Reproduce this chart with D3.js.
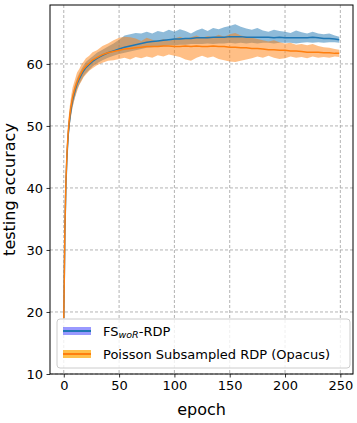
<!DOCTYPE html>
<html><head><meta charset="utf-8">
<script src="https://cdn.jsdelivr.net/npm/d3@7"></script>
<style>body{margin:0;background:#fff}svg{display:block}text{font-family:"DejaVu Sans",sans-serif}</style>
</head><body><svg id="c" width="357" height="423"></svg>
<script>
const epochs = [0,1,2,3,4,5,6,7,8,10,12,14,16,18,20,23,26,30,35,40,45,50,55,60,65,70,75,80,85,90,95,100,105,110,115,120,125,130,135,140,145,150,155,160,165,170,175,180,185,190,195,200,205,210,215,220,225,230,235,240,245,249];
const blueMean = [19.0,33,41,45.5,48.5,50.5,52,53.2,54.2,55.6,56.8,57.6,58.3,58.9,59.4,59.9,60.4,60.9,61.4,61.8,62.1,62.4,62.7,62.9,63.1,63.3,63.5,63.6,63.7,63.8,63.9,64.0,64.0,64.1,64.1,64.2,64.2,64.2,64.3,64.3,64.3,64.4,64.4,64.4,64.3,64.3,64.3,64.3,64.3,64.2,64.3,64.2,64.2,64.2,64.2,64.2,64.3,64.2,64.1,64.1,64.0,63.9];
const blueUpper = [19.3,34,42,46.5,49.5,51.5,53,54.2,55.2,56.6,57.7,58.5,59.2,59.8,60.3,60.8,61.2,61.8,62.3,62.8,63.3,63.9,64.6,64.8,65.0,64.9,65.2,64.9,65.3,65.1,65.5,65.2,65.6,65.3,64.9,65.4,65.7,65.3,65.8,65.6,65.9,66.1,66.4,66.0,65.7,65.5,65.8,65.4,65.2,65.5,65.3,65.2,65.0,65.4,65.1,64.9,65.2,64.9,64.8,64.9,64.6,64.4];
const blueLower = [18.7,32,40,44.5,47.5,49.5,51,52.2,53.2,54.6,55.9,56.7,57.4,58.0,58.5,59.0,59.6,60.1,60.6,61.0,61.3,61.6,61.8,62.0,62.2,62.4,62.6,62.7,62.8,62.9,63.0,63.0,63.1,63.1,63.2,63.2,63.2,63.3,63.2,63.3,63.3,63.4,63.3,63.4,63.3,63.4,63.3,63.4,63.4,63.3,63.4,63.4,63.4,63.3,63.4,63.5,63.4,63.5,63.4,63.5,63.5,63.4];
const orangeMean = [19.0,33.5,41.5,46,49,51,52.5,53.6,54.6,56.0,57.1,57.9,58.6,59.2,59.6,60.1,60.6,61.0,61.5,61.8,62.0,62.2,62.4,62.5,62.6,62.7,62.8,62.8,62.8,62.9,62.9,62.8,62.8,62.9,62.8,62.9,62.8,62.8,62.9,62.8,62.8,62.7,62.7,62.6,62.6,62.5,62.5,62.4,62.3,62.3,62.2,62.2,62.1,62.1,62.0,61.9,61.9,61.9,61.8,61.8,61.7,61.7];
const orangeUpper = [19.4,34.8,43,47.5,50.5,52.6,54,55.2,56.2,57.4,58.6,59.2,59.9,60.4,60.9,61.3,61.9,62.2,62.9,63.3,63.8,64.2,64.4,64.3,64.1,63.7,64.2,63.9,63.6,64.0,63.7,64.1,64.4,64.0,64.3,64.6,64.2,64.5,64.3,64.7,64.4,64.8,65.0,64.6,64.4,64.2,64.0,63.8,63.6,63.8,63.5,63.3,63.4,63.1,63.2,63.0,63.2,62.9,62.7,62.6,62.4,62.3];
const orangeLower = [18.6,31.8,39.8,44.5,47.5,49.4,50.9,52.0,53.0,54.5,55.6,56.6,57.2,57.9,58.3,58.9,59.3,59.8,60.2,60.5,60.6,60.8,61.0,60.7,61.1,60.9,61.2,61.0,61.4,61.2,61.5,61.3,61.1,60.7,60.5,61.0,61.3,61.0,61.2,60.8,60.6,60.4,60.3,60.5,60.7,60.9,61.2,61.0,61.3,61.0,60.8,60.9,61.2,61.0,61.1,60.9,61.2,61.0,61.1,61.0,61.2,61.1];
const xTicks = [0,50,100,150,200,250];
const yTicks = [10,20,30,40,50,60];

const svg = d3.select("#c");
const L=50,R=353,T=5,B=374;
const x = d3.scaleLinear().domain([-12.45,261.45]).range([L,R]);
const y = d3.scaleLinear().domain([10,69.5]).range([B,T]);

// grid
const g = svg.append("g");
g.selectAll(".gx").data(xTicks).join("line").attr("x1",d=>x(d)).attr("x2",d=>x(d)).attr("y1",T).attr("y2",B)
 .attr("stroke","#a0a0a0").attr("stroke-width",0.8).attr("stroke-dasharray","3,2");
g.selectAll(".gy").data(yTicks).join("line").attr("y1",d=>y(d)).attr("y2",d=>y(d)).attr("x1",L).attr("x2",R)
 .attr("stroke","#a0a0a0").attr("stroke-width",0.8).attr("stroke-dasharray","3,2");

const series = [
 {mean:blueMean, lo:blueLower, hi:blueUpper, color:"#1f77b4"},
 {mean:orangeMean, lo:orangeLower, hi:orangeUpper, color:"#ff7f0e"}
];
const area = d3.area().x((d,i)=>x(epochs[i])).y0(d=>y(d[0])).y1(d=>y(d[1]));
const line = d3.line().x((d,i)=>x(epochs[i])).y(d=>y(d));
svg.append("clipPath").attr("id","cp").append("rect").attr("x",L).attr("y",T).attr("width",R-L).attr("height",B-T);
const pg = svg.append("g").attr("clip-path","url(#cp)");
series.forEach(s=>{
  pg.append("path").datum(s.lo.map((v,i)=>[v,s.hi[i]])).attr("d",area).attr("fill",s.color).attr("fill-opacity",0.5);
});
series.forEach(s=>{
  pg.append("path").datum(s.mean).attr("d",line).attr("fill","none").attr("stroke",s.color).attr("stroke-width",1.5);
});

// axes
const xa = svg.append("g").attr("transform",`translate(0,${B})`).call(d3.axisBottom(x).tickValues(xTicks).tickSize(3.5).tickPadding(3.5));
const ya = svg.append("g").attr("transform",`translate(${L},0)`).call(d3.axisLeft(y).tickValues(yTicks).tickSize(3.5).tickPadding(3.5));
[xa,ya].forEach(a=>{a.select(".domain").remove();a.selectAll("text").attr("font-size",13).attr("fill","#000").attr("font-family","DejaVu Sans");a.selectAll("line").attr("stroke","#000").attr("stroke-width",0.8);});
svg.append("rect").attr("x",L).attr("y",T).attr("width",R-L).attr("height",B-T).attr("fill","none").attr("stroke","#000").attr("stroke-width",1);

svg.append("text").attr("x",(L+R)/2).attr("y",415).attr("text-anchor","middle").attr("font-size",16).text("epoch");
svg.append("text").attr("transform",`translate(15,${(T+B)/2}) rotate(-90)`).attr("text-anchor","middle").attr("font-size",16).text("testing accuracy");

// legend
const lg = svg.append("g");
lg.append("rect").attr("x",57).attr("y",319).attr("width",293).attr("height",49).attr("rx",3).attr("fill","#fff").attr("fill-opacity",0.8).attr("stroke","#ccc").attr("stroke-width",1);
const items=[{c:"#1f77b4",p:"blue",po:0.4,yy:331},{c:"#ff7f0e",p:"orange",po:0.7,yy:354}];
items.forEach((it,i)=>{
  lg.append("rect").attr("x",63).attr("y",it.yy-4).attr("width",28).attr("height",8).attr("fill",it.p).attr("fill-opacity",it.po);
  lg.append("line").attr("x1",63).attr("x2",91).attr("y1",it.yy).attr("y2",it.yy).attr("stroke",it.c).attr("stroke-width",2);
});
const t1 = lg.append("text").attr("x",103).attr("y",331+4.5).attr("font-size",13);
t1.append("tspan").text("FS");
t1.append("tspan").attr("font-size",9.5).attr("font-style","italic").attr("dy",2.5).text("woR");
t1.append("tspan").attr("dy",-2.5).text("-RDP");
lg.append("text").attr("x",103).attr("y",354+4.5).attr("font-size",13).text("Poisson Subsampled RDP (Opacus)");
</script></body></html>
